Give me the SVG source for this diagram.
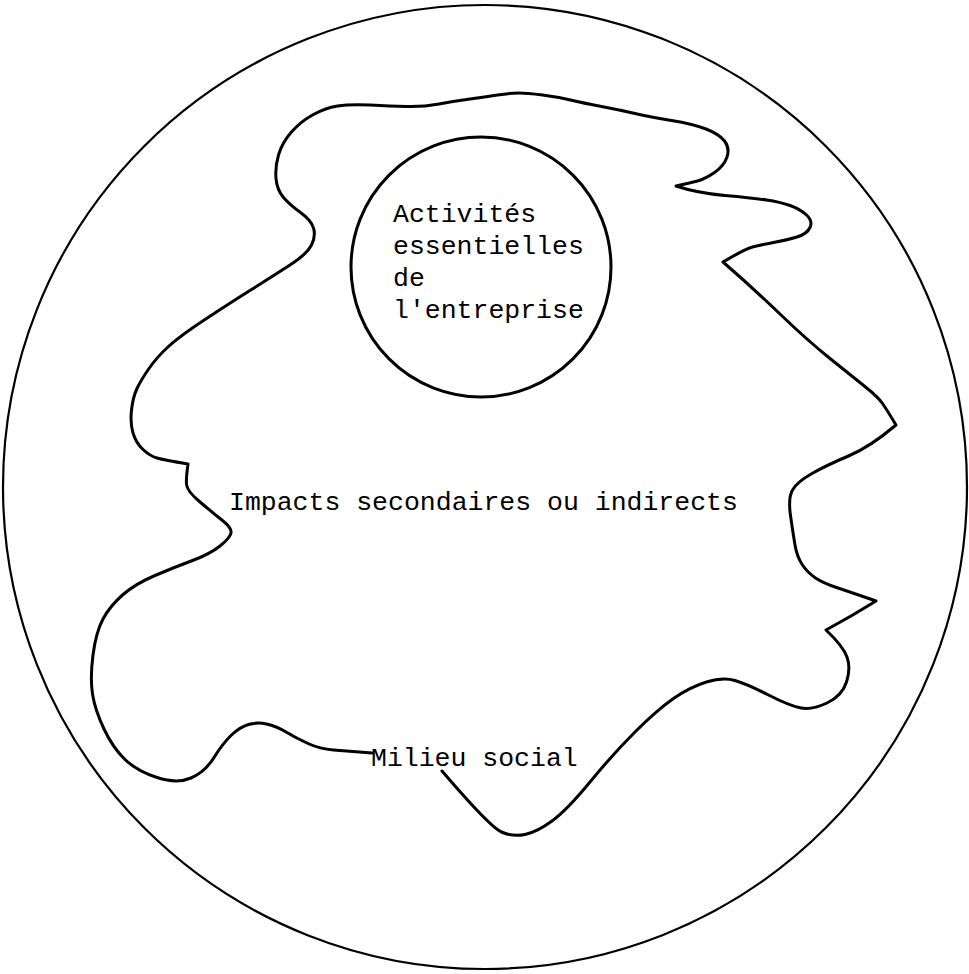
<svg xmlns="http://www.w3.org/2000/svg" width="969" height="974" viewBox="0 0 969 974">
<style>
.ln{fill:none;stroke:#000;stroke-linecap:round;stroke-linejoin:round}
.t{font-family:"Liberation Mono","Courier New",monospace;font-size:26.5px;fill:#000}
</style>
<rect width="969" height="974" fill="#fff"/>
<g id="milieu-social">
<circle class="ln" cx="485" cy="487" r="482" stroke-width="2.2"/>
</g>
<g id="impacts">
<path class="ln" stroke-width="3" d="M 372 753 Q 347 751 333.5 750 Q 320 749 308 743.5 Q 296 738 286 732 Q 276 726 266.5 724 Q 257 722 248.5 724.5 Q 240 727 231.5 735 Q 223 743 214 757.5 Q 205 772 191 778 Q 177 784 157 777.5 Q 137 771 125 759.5 Q 113 748 104 729 Q 95 710 92.5 694 Q 90 678 93 655 Q 96 632 103 619 Q 110 606 122.5 595 Q 135 584 155 575.5 Q 175 567 192.5 560.5 Q 210 554 220 546 Q 230 538 231 533 Q 232 528 222.5 520.5 Q 213 513 200 502 Q 187 491 186.5 484.5 Q 186 478 188 464
Q 164 460 157 458 Q 150 456 143 449.5 Q 136 443 133 433 Q 130 423 131.5 410 Q 133 397 137 388.5 Q 141 380 149 368.5 Q 157 357 168.5 346.5 Q 180 336 205 319.5 Q 230 303 251.5 289.5 Q 273 276 290 265 Q 307 254 311.5 245 Q 316 236 313.5 228 Q 311 220 300.5 212.5 Q 290 205 283.5 197.5 Q 277 190 276 178.5 Q 275 167 278.5 155 Q 282 143 291 132.5 Q 300 122 312.5 115 Q 325 108 337.5 106 Q 350 104 370 105 Q 390 106 406.5 106.5 Q 423 107 439 104 Q 455 101 470 99 Q 485 97 497.5 95 Q 510 93 518.5 93 Q 527 93 542.5 95 Q 558 97 570.5 100 Q 583 103 601.5 106.5 Q 620 110 635 113.5 Q 650 117 671.5 120.5 Q 693 124 706 129 Q 719 134 724.5 141 Q 730 148 727 157 Q 724 166 714.5 172.5 Q 705 179 697.5 181 Q 690 183 676 186
Q 697 193 725 195.5 Q 753 198 766.5 200 Q 780 202 790 205.5 Q 800 209 806.5 215 Q 813 221 810 227.5 Q 807 234 797 237 Q 787 240 773.5 242.5 Q 760 245 752.5 247 Q 745 249 723 262
Q 753 288 780 314 Q 807 340 830 358.5 Q 853 377 865.5 387 Q 878 397 882.5 403.5 Q 887 410 896 425
Q 870 447 848.5 456 Q 827 465 812 473.5 Q 797 482 792.5 490 Q 788 498 790.5 515.5 Q 793 533 795 545 Q 797 557 802.5 565 Q 808 573 815.5 578 Q 823 583 836.5 587.5 Q 850 592 876 601
Q 852 616 826 630
Q 843 646 847 657 Q 851 668 846.5 682 Q 842 696 827 703 Q 812 710 801 708 Q 790 706 768.5 695 Q 747 684 735 680.5 Q 723 677 706.5 682 Q 690 687 673.5 698.5 Q 657 710 635 732 Q 613 754 590 782 Q 567 810 552 821 Q 537 832 525 834.5 Q 513 837 501.5 832 Q 490 827 442 771"/>
</g>
<g id="activites">
<circle class="ln" cx="481" cy="267" r="130" stroke-width="3"/>
<text class="t" x="393" y="222">Activités</text>
<text class="t" x="393" y="254">essentielles</text>
<text class="t" x="393" y="286">de</text>
<text class="t" x="393" y="318">l'entreprise</text>
</g>
<g id="labels">
<text class="t" x="229" y="510">Impacts secondaires ou indirects</text>
<text class="t" x="371" y="766">Milieu social</text>
</g>
<g id="connectors"/>
</svg>
